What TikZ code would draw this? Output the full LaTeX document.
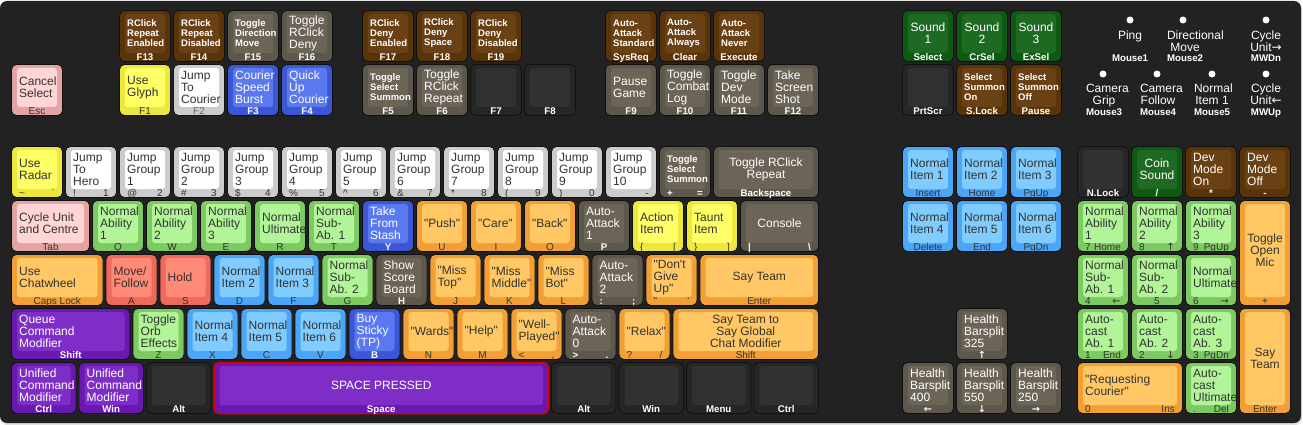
\documentclass[tikz,border=0pt]{standalone}
\usepackage{fontspec}
\setmainfont{Liberation Sans}
\newfontfamily\kf{Liberation Sans}
\newfontfamily\arrowfont{DejaVu Sans}
\newcommand\arw{\arrowfont}
\newcommand\fA{\kf\fontsize{12}{12}\selectfont}
\newcommand\fS{\kf\bfseries\fontsize{9.5}{10}\selectfont}
\newcommand\fLb{\kf\bfseries\fontsize{9.7}{10}\selectfont}
\newcommand\fLd{\kf\fontsize{10}{10}\selectfont}
\newcommand\mb[1]{\hbox to 36pt{\hfil#1\hfil}}
\hfuzz=200pt
\definecolor{bg}{HTML}{222222}
\definecolor{kedge}{HTML}{111111}
\definecolor{txtd}{HTML}{333333}
\definecolor{labg}{HTML}{666666}
\definecolor{spred}{HTML}{E00000}
\definecolor{brO}{HTML}{5A3409}\definecolor{brI}{HTML}{6A4115}
\definecolor{gbO}{HTML}{5E574B}\definecolor{gbI}{HTML}{6C6457}
\definecolor{dkO}{HTML}{262626}\definecolor{dkI}{HTML}{313131}
\definecolor{pkO}{HTML}{E6A3A3}\definecolor{pkI}{HTML}{FFD5D5}
\definecolor{ylO}{HTML}{EEE83E}\definecolor{ylI}{HTML}{FFFF66}
\definecolor{lgO}{HTML}{CCCCCC}\definecolor{lgI}{HTML}{FFFFFF}
\definecolor{blO}{HTML}{3B57D6}\definecolor{blI}{HTML}{5A78F0}
\definecolor{dgO}{HTML}{0E5A13}\definecolor{dgI}{HTML}{1E6A22}
\definecolor{gnO}{HTML}{7DC962}\definecolor{gnI}{HTML}{B2F598}
\definecolor{lbO}{HTML}{4BA6F8}\definecolor{lbI}{HTML}{80CCFF}
\definecolor{orO}{HTML}{F2A035}\definecolor{orI}{HTML}{FFC864}
\definecolor{saO}{HTML}{EF6A5A}\definecolor{saI}{HTML}{FF8A78}
\definecolor{puO}{HTML}{6A19B0}\definecolor{puI}{HTML}{7E2EC6}
\def\kbCtr{c}
\pgfkeys{/kb/.cd,
 O/.store in=\kbO, I/.store in=\kbI, T/.store in=\kbT, L/.store in=\kbL,
 E/.store in=\kbE, EW/.store in=\kbEW, F/.store in=\kbF, LF/.store in=\kbLF,
 W/.store in=\kbW, H/.store in=\kbH,
 lc/.store in=\kbLC, ll/.store in=\kbLL, lr/.store in=\kbLR,
 c/.code={\def\kbA{c}}, l/.code={\def\kbA{l}},
 defaults/.style={O=lgO, I=lgI, T=txtd, L=txtd, E=kedge, EW=0.8pt, F=\fA, LF=\fLd,
   W=52, H=52, lc=, ll=, lr=, l},
 small/.style={F=\fS},
 brown/.style={O=brO, I=brI, T=white, L=white, LF=\fLb},
 gb/.style={O=gbO, I=gbI, T=white, L=white, LF=\fLb},
 dk/.style={O=dkO, I=dkI, T=white, L=white, LF=\fLb},
 pk/.style={O=pkO, I=pkI},
 yl/.style={O=ylO, I=ylI},
 lg/.style={O=lgO, I=lgI},
 bl/.style={O=blO, I=blI, T=white, L=white, LF=\fLb},
 dg/.style={O=dgO, I=dgI, T=white, L=white, LF=\fLb},
 gn/.style={O=gnO, I=gnI},
 lb/.style={O=lbO, I=lbI},
 or/.style={O=orO, I=orI},
 sa/.style={O=saO, I=saI},
 pu/.style={O=puO, I=puI, T=white, L=white, LF=\fLb},
}
\newcounter{kn}
\newcommand\key[4]{%
\begingroup
\pgfkeys{/kb/.cd, defaults, #1}%
\colorlet{kO}{\kbO}\colorlet{kI}{\kbI}\colorlet{kT}{\kbT}\colorlet{kL}{\kbL}\colorlet{kE}{\kbE}%
\stepcounter{kn}%
\edef\kname{k\arabic{kn}}%
\path[fill=kO, draw=kE, line width=\kbEW, rounded corners=5pt] ({#2+0.5},{#3+0.5}) rectangle ({#2+\kbW-0.5},{#3+\kbH-0.5});
\path[fill=kI, rounded corners=3pt] ({#2+6},{#3+4}) rectangle ({#2+\kbW-6},{#3+\kbH-9});
\ifx\kbA\kbCtr
 \node[kleg, text=kT, font=\kbF, align=center] (\kname) at ({#2+\kbW/2},{#3+(\kbH-5)/2}) {#4};
\else
 \node[kleg, text=kT, font=\kbF, align=left, anchor=west] (\kname) at ({#2+8},{#3+(\kbH-5)/2}) {#4};
\fi
\ifx\kbLC\empty\else\node[klab, text=kL, font=\kbLF, anchor=base] (\kname c) at ({#2+\kbW/2},{#3+\kbH-1.5}) {\kbLC};\fi
\ifx\kbLL\empty\else\node[klab, text=kL, font=\kbLF, anchor=base west] (\kname l) at ({#2+8},{#3+\kbH-1.5}) {\kbLL};\fi
\ifx\kbLR\empty\else\node[klab, text=kL, font=\kbLF, anchor=base east] (\kname r) at ({#2+\kbW-8},{#3+\kbH-1.5}) {\kbLR};\fi
\endgroup}
\tikzset{
 kleg/.style={inner sep=0pt},
 klab/.style={inner sep=0pt},
 mdot/.style={circle, fill=white, inner sep=0pt, minimum size=7pt},
 mtxt/.style={anchor=north, inner sep=0pt, align=center, font=\fA, text=white},
 mlab/.style={anchor=base, inner sep=0pt, font=\fLb, text=white},
}
\begin{document}
\begin{tikzpicture}[x=1pt, y=-1pt]
\useasboundingbox (0,0) rectangle (1303,425);
\fill[white] (0,0) rectangle (1303,425);
\fill[black!12] (0,2) [rounded corners=7pt] rectangle (1302,425);
\fill[bg, rounded corners=7pt] (0,1) rectangle (1301,423);
% ---- top function rows
\key{brown,small,lc=F13}{119}{10}{RClick\\Repeat\\Enabled}
\key{brown,small,lc=F14}{173}{10}{RClick\\Repeat\\Disabled}
\key{gb,small,lc=F15}{227}{10}{Toggle\\Direction\\Move}
\key{gb,lc=F16}{281}{10}{Toggle\\RClick\\Deny}
\key{brown,small,lc=F17}{362}{10}{RClick\\Deny\\Enabled}
\key{brown,small,lc=F18}{416}{10}{RClick\\Deny\\Space}
\key{brown,small,lc=F19}{470}{10}{RClick\\Deny\\Disabled}
\key{brown,small,lc=SysReq}{605}{10}{Auto-\\Attack\\Standard}
\key{brown,small,lc=Clear}{659}{10}{Auto-\\Attack\\Always}
\key{brown,small,lc=Execute}{713}{10}{Auto-\\Attack\\Never}
\key{dg,c,lc=Select}{902}{10}{Sound\\1}
\key{dg,c,lc=CrSel}{956}{10}{Sound\\2}
\key{dg,c,lc=ExSel}{1010}{10}{Sound\\3}
\key{pk,lc=Esc}{11}{64}{Cancel\\Select}
\key{yl,lc=F1}{119}{64}{Use\\Glyph}
\key{lg,L=labg,lc=F2}{173}{64}{Jump\\To\\Courier}
\key{bl,lc=F3}{227}{64}{Courier\\Speed\\Burst}
\key{bl,lc=F4}{281}{64}{Quick\\Up\\Courier}
\key{gb,small,lc=F5}{362}{64}{Toggle\\Select\\Summon}
\key{gb,lc=F6}{416}{64}{Toggle\\RClick\\Repeat}
\key{dk,lc=F7}{470}{64}{}
\key{dk,lc=F8}{524}{64}{}
\key{gb,lc=F9}{605}{64}{Pause\\Game}
\key{gb,lc=F10}{659}{64}{Toggle\\Combat\\Log}
\key{gb,lc=F11}{713}{64}{Toggle\\Dev\\Mode}
\key{gb,lc=F12}{767}{64}{Take\\Screen\\Shot}
\key{dk,lc=PrtScr}{902}{64}{}
\key{brown,small,lc=S.Lock}{956}{64}{Select\\Summon\\On}
\key{brown,small,lc=Pause}{1010}{64}{Select\\Summon\\Off}
% ---- mouse
\node[mdot] (md1) at (1130,20) {};
\node[mtxt] (mt1) at (1130,30.5) {\mb{Ping}};
\node[mlab] (ml1) at (1130,62) {\mb{Mouse1}};
\node[mdot] (md2) at (1183,20) {};
\node[mtxt] (mt2) at (1185,30.5) {\mb{Directional}\\\mb{Move}};
\node[mlab] (ml2) at (1185,62) {\mb{Mouse2}};
\node[mdot] (md3) at (1266,20) {};
\node[mtxt] (mt3) at (1266,30.5) {\mb{Cycle}\\\mb{Unit\arw →}};
\node[mlab] (ml3) at (1266,62) {\mb{MWDn}};
\node[mdot] (md4) at (1103,74) {};
\node[mtxt] (mt4) at (1104,84) {\mb{Camera}\\\mb{Grip}};
\node[mlab] (ml4) at (1104,116) {\mb{Mouse3}};
\node[mdot] (md5) at (1157,74) {};
\node[mtxt] (mt5) at (1158,84) {\mb{Camera}\\\mb{Follow}};
\node[mlab] (ml5) at (1158,116) {\mb{Mouse4}};
\node[mdot] (md6) at (1212,74) {};
\node[mtxt] (mt6) at (1212,84) {\mb{Normal}\\\mb{Item 1}};
\node[mlab] (ml6) at (1212,116) {\mb{Mouse5}};
\node[mdot] (md7) at (1266,74) {};
\node[mtxt] (mt7) at (1266,84) {\mb{Cycle}\\\mb{Unit\arw ←}};
\node[mlab] (ml7) at (1266,116) {\mb{MWUp}};
% ---- number row
\key{yl,ll=\textasciitilde,lr=`}{11}{146}{Use\\Radar}
\key{lg,ll=!,lr=1}{65}{146}{Jump\\To\\Hero}
\key{lg,ll=@,lr=2}{119}{146}{Jump\\Group\\1}
\key{lg,ll=\#,lr=3}{173}{146}{Jump\\Group\\2}
\key{lg,ll=\$,lr=4}{227}{146}{Jump\\Group\\3}
\key{lg,ll=\%,lr=5}{281}{146}{Jump\\Group\\4}
\key{lg,ll=\textasciicircum,lr=6}{335}{146}{Jump\\Group\\5}
\key{lg,ll=\&,lr=7}{389}{146}{Jump\\Group\\6}
\key{lg,ll=*,lr=8}{443}{146}{Jump\\Group\\7}
\key{lg,ll=(,lr=9}{497}{146}{Jump\\Group\\8}
\key{lg,ll=),lr=0}{551}{146}{Jump\\Group\\9}
\key{lg,ll=\_,lr=-}{605}{146}{Jump\\Group\\10}
\key{gb,small,ll=+,lr={=}}{659}{146}{Toggle\\Select\\Summon}
\key{gb,c,W=106,lc=Backspace}{713}{146}{Toggle RClick\\Repeat}
\key{lb,lc=Insert}{902}{146}{Normal\\Item 1}
\key{lb,lc=Home}{956}{146}{Normal\\Item 2}
\key{lb,lc=PgUp}{1010}{146}{Normal\\Item 3}
\key{dk,lc=N.Lock}{1077}{146}{}
\key{dg,c,lc=/}{1131}{146}{Coin\\Sound}
\key{brown,lc=*}{1185}{146}{Dev\\Mode\\On}
\key{brown,lc=-}{1239}{146}{Dev\\Mode\\Off}
% ---- Q row
\key{pk,W=79,lc=Tab}{11}{200}{Cycle Unit\\and Centre}
\key{gn,lc=Q}{92}{200}{Normal\\Ability\\1}
\key{gn,lc=W}{146}{200}{Normal\\Ability\\2}
\key{gn,lc=E}{200}{200}{Normal\\Ability\\3}
\key{gn,lc=R}{254}{200}{Normal\\Ultimate}
\key{gn,lc=T}{308}{200}{Normal\\Sub-\\Ab. 1}
\key{bl,lc=Y}{362}{200}{Take\\From\\Stash}
\key{or,lc=U}{416}{200}{"Push"}
\key{or,lc=I}{470}{200}{"Care"}
\key{or,lc=O}{524}{200}{"Back"}
\key{gb,lc=P}{578}{200}{Auto-\\Attack\\1}
\key{yl,ll=\{,lr=[}{632}{200}{Action\\Item}
\key{yl,ll=\},lr=]}{686}{200}{Taunt\\Item}
\key{gb,c,W=79,ll=|,lr=\textbackslash}{740}{200}{Console}
\key{lb,lc=Delete}{902}{200}{Normal\\Item 4}
\key{lb,lc=End}{956}{200}{Normal\\Item 5}
\key{lb,lc=PgDn}{1010}{200}{Normal\\Item 6}
\key{gn,ll=7,lr=Home}{1077}{200}{Normal\\Ability\\1}
\key{gn,ll=8,lr=\arw ↑}{1131}{200}{Normal\\Ability\\2}
\key{gn,ll=9,lr=PgUp}{1185}{200}{Normal\\Ability\\3}
\key{or,c,H=106,lc=+}{1239}{200}{Toggle\\Open\\Mic}
% ---- A row
\key{or,W=92.5,lc={Caps Lock}}{11}{254}{Use\\Chatwheel}
\key{sa,lc=A}{105.5}{254}{Move/\\Follow}
\key{sa,lc=S}{159.5}{254}{Hold}
\key{lb,lc=D}{213.5}{254}{Normal\\Item 2}
\key{lb,lc=F}{267.5}{254}{Normal\\Item 3}
\key{gn,lc=G}{321.5}{254}{Normal\\Sub-\\Ab. 2}
\key{gb,lc=H}{375.5}{254}{Show\\Score\\Board}
\key{or,lc=J}{429.5}{254}{"Miss\\Top"}
\key{or,lc=K}{483.5}{254}{"Miss\\Middle"}
\key{or,lc=L}{537.5}{254}{"Miss\\Bot"}
\key{gb,ll=:,lr=;}{591.5}{254}{Auto-\\Attack\\2}
\key{or,ll=",lr='}{645.5}{254}{"Don't\\Give\\Up"}
\key{or,c,W=119.5,lc=Enter}{699.5}{254}{Say Team}
\key{gn,ll=4,lr=\arw ←}{1077}{254}{Normal\\Sub-\\Ab. 1}
\key{gn,lc=5}{1131}{254}{Normal\\Sub-\\Ab. 2}
\key{gn,ll=6,lr=\arw →}{1185}{254}{Normal\\Ultimate}
% ---- Z row
\key{pu,W=119.5,lc=Shift}{11}{308}{Queue\\Command\\Modifier}
\key{gn,lc=Z}{132.5}{308}{Toggle\\Orb\\Effects}
\key{lb,lc=X}{186.5}{308}{Normal\\Item 4}
\key{lb,lc=C}{240.5}{308}{Normal\\Item 5}
\key{lb,lc=V}{294.5}{308}{Normal\\Item 6}
\key{bl,lc=B}{348.5}{308}{Buy\\Sticky\\(TP)}
\key{or,lc=N}{402.5}{308}{"Wards"}
\key{or,lc=M}{456.5}{308}{"Help"}
\key{or,ll=<,lr={,}}{510.5}{308}{"Well-\\Played"}
\key{gb,ll=>,lr=.}{564.5}{308}{Auto-\\Attack\\0}
\key{or,ll=?,lr=/}{618.5}{308}{"Relax"}
\key{or,c,W=146.5,lc=Shift}{672.5}{308}{Say Team to\\Say Global\\Chat Modifier}
\key{gb,lc=\arw ↑}{956}{308}{Health\\Barsplit\\325}
\key{gn,ll=1,lr=End}{1077}{308}{Auto-\\cast\\Ab. 1}
\key{gn,ll=2,lr=\arw ↓}{1131}{308}{Auto-\\cast\\Ab. 2}
\key{gn,ll=3,lr=PgDn}{1185}{308}{Auto-\\cast\\Ab. 3}
\key{or,c,H=106,lc=Enter}{1239}{308}{Say\\Team}
% ---- bottom row
\key{pu,W=65.5,lc=Ctrl}{11}{362}{Unified\\Command\\Modifier}
\key{pu,W=65.5,lc=Win}{78.5}{362}{Unified\\Command\\Modifier}
\key{dk,W=65.5,lc=Alt}{146}{362}{}
\key{pu,c,W=335.5,E=spred,EW=1.5pt,lc=Space}{213.5}{362}{SPACE PRESSED}
\key{dk,W=65.5,lc=Alt}{551}{362}{}
\key{dk,W=65.5,lc=Win}{618.5}{362}{}
\key{dk,W=65.5,lc=Menu}{686}{362}{}
\key{dk,W=65.5,lc=Ctrl}{753.5}{362}{}
\key{gb,lc=\arw ←}{902}{362}{Health\\Barsplit\\400}
\key{gb,lc=\arw ↓}{956}{362}{Health\\Barsplit\\550}
\key{gb,lc=\arw →}{1010}{362}{Health\\Barsplit\\250}
\key{or,W=106,ll=0,lr=Ins}{1077}{362}{"Requesting\\Courier"}
\key{gn,ll=.,lr=Del}{1185}{362}{Auto-\\cast\\Ultimate}
\end{tikzpicture}
\end{document}
